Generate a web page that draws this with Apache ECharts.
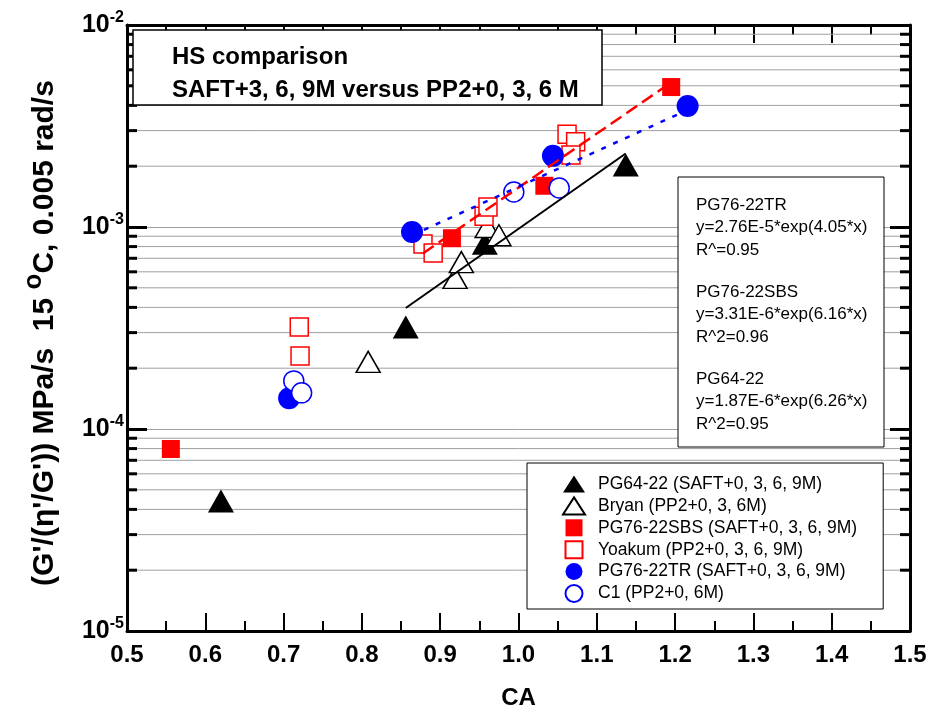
<!DOCTYPE html>
<html>
<head>
<meta charset="utf-8">
<script src="https://cdn.jsdelivr.net/npm/echarts@6/dist/echarts.min.js"></script>
<style>
  html, body { margin: 0; padding: 0; background: #fff; }
  #chart { width: 931px; height: 711px; }
</style>
</head>
<body>
<div id="chart"></div>
<script>
// CA vs. G'/(eta'/G') at 15 C, 0.005 rad/s
const pg6422 = [[0.620, 4.4e-5], [0.856, 3.2e-4], [0.957, 8.3e-4], [1.137, 2.03e-3]];
const bryan = [[0.808, 2.15e-4], [0.919, 5.6e-4], [0.927, 6.7e-4], [0.960, 1.0e-3], [0.975, 9.1e-4]];
const pg7622sbs = [[0.556, 7.96e-5], [0.915, 8.8e-4], [1.033, 1.6e-3], [1.195, 4.93e-3]];
const yoakum = [[0.720, 3.2e-4], [0.721, 2.3e-4], [0.878, 8.24e-4], [0.891, 7.43e-4], [0.956, 1.13e-3],
                [0.961, 1.256e-3], [1.062, 2.88e-3], [1.073, 2.64e-3], [1.067, 2.27e-3]];
const pg7622tr = [[0.707, 1.42e-4], [0.864, 9.45e-4], [1.044, 2.25e-3], [1.216, 3.97e-3]];
const c1 = [[0.713, 1.73e-4], [0.723, 1.51e-4], [0.994, 1.49e-3], [1.052, 1.56e-3]];

// exponential fit lines (end points)
const fitPG6422 = [[0.856, 3.97e-4], [1.137, 2.31e-3]];
const fitSBS = [[0.878, 7.4e-4], [1.195, 5.2e-3]];
const fitTR = [[0.864, 9.1e-4], [1.216, 3.8e-3]];

const seriesNames = [
  'PG64-22 (SAFT+0, 3, 6, 9M)',
  'Bryan (PP2+0, 3, 6M)',
  'PG76-22SBS (SAFT+0, 3, 6, 9M)',
  'Yoakum (PP2+0, 3, 6, 9M)',
  'PG76-22TR (SAFT+0, 3, 6, 9M)',
  'C1 (PP2+0, 6M)'
];

const fitText = [
  ['PG76-22TR', 'y=2.76E-5*exp(4.05*x)', 'R^=0.95'],
  ['PG76-22SBS', 'y=3.31E-6*exp(6.16*x)', 'R^2=0.96'],
  ['PG64-22', 'y=1.87E-6*exp(6.26*x)', 'R^2=0.95']
];

const titleLines = ['HS comparison', 'SAFT+3, 6, 9M versus PP2+0, 3, 6 M'];

const xMin = 0.5, xMax = 1.5, xStep = 0.1;
const yMin = 1e-5, yMax = 1e-2;

// minor log positions 2..9 within each decade
const yMinor = [];
for (let e = -5; e < -2; e++) {
  for (let m = 2; m <= 9; m++) yMinor.push(+(m * Math.pow(10, e)).toPrecision(3));
}

const FONT = '"Liberation Sans", Arial, sans-serif';
const SQUARE_ICON = 'path://M0,0L10,0L10,10L0,10Z';

const chart = echarts.init(document.getElementById('chart'), null, { renderer: 'canvas' });

function scatter(name, data, symbol, size, fill, stroke, bw) {
  return {
    name, type: 'scatter', data, symbol, symbolSize: size, z: 3,
    itemStyle: { color: fill, borderColor: stroke, borderWidth: bw, opacity: 1 },
    emphasis: { disabled: true }
  };
}

function fitLine(data, color, type, width) {
  return {
    type: 'line', data, showSymbol: false, symbol: 'none', z: 5, silent: true,
    lineStyle: { color, type, width }, legendHoverLink: false
  };
}

function xAxisBase(extra) {
  return Object.assign({
    type: 'value', min: xMin, max: xMax, interval: xStep,
    axisLine: { lineStyle: { color: '#000', width: 3 } },
    axisTick: { inside: true, length: 18, lineStyle: { color: '#000', width: 2 } },
    minorTick: { show: true, splitNumber: 2, length: 10, lineStyle: { color: '#000', width: 2 } },
    splitLine: { show: false }
  }, extra);
}

function boxText(x, y, text, font) {
  return { type: 'text', x, y, z: 100,
           style: { text, font, fill: '#000', textVerticalAlign: 'middle' } };
}

const option = {
  animation: false,
  backgroundColor: '#fff',
  grid: { left: 127, right: 21, top: 25, bottom: 80, containLabel: false, outerBoundsMode: 'none' },
  xAxis: [
    xAxisBase({
      name: 'CA', nameLocation: 'middle', nameGap: 55,
      nameTextStyle: { fontFamily: FONT, fontWeight: 'bold', fontSize: 24, color: '#000' },
      axisLabel: { margin: 12, fontFamily: FONT, fontWeight: 'bold', fontSize: 24, color: '#000',
                   formatter: v => v.toFixed(1) }
    }),
    xAxisBase({ position: 'top', axisLabel: { show: false } })
  ],
  yAxis: [{
    type: 'log', logBase: 10, min: yMin, max: yMax, interval: 1,
    name: '{t|(G\'/(η\'/G\')) MPa/s  15 }{sup|o}{t|C, 0.005 rad/s}',
    nameLocation: 'middle', nameGap: 58, nameRotate: 90,
    nameTextStyle: {
      color: '#000', padding: [0, 10, 0, 0],
      rich: {
        t: { fontFamily: FONT, fontWeight: 'bold', fontSize: 30, color: '#000' },
        sup: { fontFamily: FONT, fontWeight: 'bold', fontSize: 26, color: '#000', padding: [0, 0, 22, 0] }
      }
    },
    axisLine: { lineStyle: { color: '#000', width: 3 } },
    axisTick: { inside: true, length: 20, lineStyle: { color: '#000', width: 3 } },
    axisLabel: {
      margin: 3, color: '#000',
      formatter: v => '{b|10}{s|' + Math.round(Math.log10(v)) + '}',
      rich: {
        b: { fontFamily: FONT, fontWeight: 'bold', fontSize: 25, color: '#000' },
        s: { fontFamily: FONT, fontWeight: 'bold', fontSize: 16, color: '#000', padding: [0, 0, 14, 0] }
      }
    },
    splitLine: { show: true, lineStyle: { color: '#a0a0a0', width: 1 } }
  }, {
    type: 'log', logBase: 10, min: yMin, max: yMax, interval: 1, position: 'right',
    axisLine: { lineStyle: { color: '#000', width: 3 } },
    axisTick: { inside: true, length: 20, lineStyle: { color: '#000', width: 3 } },
    axisLabel: { show: false }, splitLine: { show: false }
  }],
  legend: {
    orient: 'vertical', left: 527, top: 463,
    data: seriesNames.map((name, i) => (i === 2 || i === 3) ? { name, icon: SQUARE_ICON } : { name }),
    backgroundColor: '#fff', borderColor: '#000', borderWidth: 1,
    padding: [12, 26, 6, 35],
    itemWidth: 22, itemHeight: 17, itemGap: 3.4,
    symbolKeepAspect: true,
    textStyle: { fontFamily: FONT, fontSize: 17.5, color: '#000', padding: [0, 0, 0, 8] },
    selectedMode: false, z: 8
  },
  series: [
    // minor gridlines and ticks on the log axis
    {
      type: 'custom', silent: true, z: 1,
      data: yMinor.map(v => [v]),
      encode: { y: 0 },
      renderItem: (params, api) => {
        const v = api.value(0);
        const p0 = api.coord([xMin, v]);
        const p1 = api.coord([xMax, v]);
        return {
          type: 'group', children: [
            { type: 'line', shape: { x1: p0[0], y1: p0[1], x2: p1[0], y2: p1[1] },
              style: { stroke: '#a0a0a0', lineWidth: 1 } },
            { type: 'line', shape: { x1: p0[0], y1: p0[1], x2: p0[0] + 10, y2: p0[1] },
              style: { stroke: '#000', lineWidth: 3 } },
            { type: 'line', shape: { x1: p1[0] - 10, y1: p1[1], x2: p1[0], y2: p1[1] },
              style: { stroke: '#000', lineWidth: 3 } }
          ]
        };
      }
    },
    scatter(seriesNames[0], pg6422, 'triangle', [26, 23], '#000', '#000', 0),
    scatter(seriesNames[1], bryan, 'triangle', [24, 21], '#fff', '#000', 1.5),
    scatter(seriesNames[2], pg7622sbs, 'rect', 18, '#ff0000', '#ff0000', 0),
    scatter(seriesNames[3], yoakum, 'rect', 18, '#fff', '#ff0000', 1.5),
    scatter(seriesNames[4], pg7622tr, 'circle', 22, '#0000ff', '#0000ff', 0),
    scatter(seriesNames[5], c1, 'circle', 20, '#fff', '#0000ff', 1.5),
    fitLine(fitPG6422, '#000', 'solid', 2),
    fitLine(fitSBS, '#ff0000', [13, 6], 2.5),
    fitLine(fitTR, '#0000ff', [5, 8], 2.5)
  ],
  graphic: [
    { type: 'rect', z: 100, shape: { x: 133, y: 30, width: 469, height: 75 },
      style: { fill: '#fff', stroke: '#000', lineWidth: 1.5 } },
    boxText(172, 57, titleLines[0], 'bold 24px ' + FONT),
    boxText(172, 90, titleLines[1], 'bold 24px ' + FONT),
    { type: 'rect', z: 100, shape: { x: 678, y: 177, width: 206, height: 270 },
      style: { fill: '#fff', stroke: '#000', lineWidth: 1 } }
  ].concat(fitText.flatMap((blk, i) => blk.map((line, j) =>
    boxText(696, 205 + i * 87 + j * 22.5, line, '17px ' + FONT))))
};

chart.setOption(option);
</script>
</body>
</html>
